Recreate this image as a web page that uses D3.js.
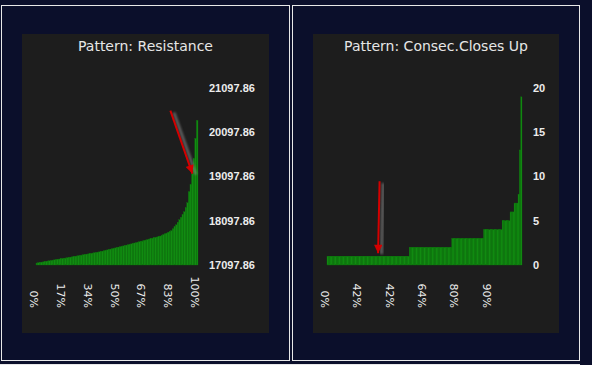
<!DOCTYPE html>
<html>
<head>
<meta charset="utf-8">
<script src="https://cdn.jsdelivr.net/npm/d3@7"></script>
<style>
  html, body { margin: 0; padding: 0; background: #0b0f2b; }
  svg { display: block; }
</style>
</head>
<body>
<svg id="chart"></svg>
<script>
// sorted resistance levels (left panel)
const resistanceValues = [
  17143, 17150, 17157, 17162, 17168, 17175, 17182, 17189, 17193, 17200,
  17207, 17214, 17221, 17225, 17232, 17239, 17246, 17252, 17257, 17261,
  17268, 17275, 17282, 17289, 17296, 17302, 17309, 17316, 17323, 17330,
  17336, 17343, 17348, 17355, 17361, 17368, 17375, 17382, 17389, 17395,
  17402, 17411, 17420, 17429, 17439, 17448, 17457, 17466, 17475, 17484,
  17493, 17502, 17511, 17520, 17529, 17538, 17547, 17557, 17566, 17575,
  17584, 17595, 17604, 17613, 17625, 17634, 17643, 17654, 17663, 17672,
  17684, 17693, 17702, 17713, 17722, 17731, 17743, 17752, 17768, 17786,
  17802, 17820, 17838, 17856, 17874, 17915, 17961, 18006, 18063, 18120,
  18176, 18233, 18301, 18392, 18505, 18755, 18914, 19164, 19504, 19958,
  20367
];
const resistanceXLabels = ["0%", "17%", "34%", "50%", "67%", "83%", "100%"];
const resistanceYTicks = [17097.86, 18097.86, 19097.86, 20097.86, 21097.86];
const resistanceCurrent = 97;

// sorted count of consecutive closes up (right panel)
const closesUpValues = [
  1, 1, 1, 1, 1, 1, 1, 1, 1, 1, 1, 1, 1, 1, 1, 1, 1, 1, 1, 1,
  1, 1, 1, 1, 1, 1, 1, 1, 1, 1, 1, 1, 1, 1, 1, 1, 1, 1, 1, 1,
  1, 1, 1, 1, 1, 1, 1, 1, 1, 1, 1, 1, 1, 1, 1, 1, 1, 1, 1, 1,
  1, 1,
  2, 2, 2, 2, 2, 2, 2, 2, 2, 2, 2, 2, 2, 2, 2, 2, 2, 2, 2, 2,
  2, 2, 2, 2, 2, 2, 2, 2, 2, 2, 2, 2,
  3, 3, 3, 3, 3, 3, 3, 3, 3, 3, 3, 3, 3, 3, 3, 3, 3, 3, 3, 3,
  3, 3, 3, 3,
  4, 4, 4, 4, 4, 4, 4, 4, 4, 4, 4, 4, 4, 4,
  5, 5, 5, 5, 5, 5,
  6, 6, 6,
  7, 7, 7,
  8, 13, 19
];
const closesUpXLabels = ["0%", "42%", "42%", "64%", "80%", "90%", ""];
const closesUpYTicks = [0, 5, 10, 15, 20];
const closesUpCurrent = 38;

const width = 592, height = 365;

const svg = d3.select("#chart")
  .attr("width", width)
  .attr("height", height);

svg.append("rect").attr("width", width).attr("height", height).attr("fill", "#0b0f2b");

const defs = svg.append("defs");
defs.append("filter").attr("id", "blur")
  .attr("x", "-50%").attr("y", "-50%").attr("width", "200%").attr("height", "200%")
  .append("feGaussianBlur").attr("stdDeviation", 1.3);
defs.append("marker")
  .attr("id", "head")
  .attr("viewBox", "0 0 10 10")
  .attr("refX", 10).attr("refY", 5)
  .attr("markerWidth", 5.5).attr("markerHeight", 4.2)
  .attr("markerUnits", "strokeWidth")
  .attr("orient", "auto")
  .append("path").attr("d", "M0,0 L10,5 L0,10 Z").attr("fill", "#d40000");

// outer frames
svg.append("rect").attr("x", 1.5).attr("y", 5.5).attr("width", 288).attr("height", 355)
  .attr("fill", "none").attr("stroke", "#e8e8e8");
svg.append("rect").attr("x", 292.5).attr("y", 5.5).attr("width", 287).attr("height", 355)
  .attr("fill", "none").attr("stroke", "#e8e8e8");
svg.append("line").attr("x1", 0).attr("x2", 580).attr("y1", 364.5).attr("y2", 364.5)
  .attr("stroke", "#e8e8e8");

function drawPanel(opt) {
  const g = svg.append("g");

  g.append("rect")
    .attr("x", opt.box[0]).attr("y", 34)
    .attr("width", opt.box[1] - opt.box[0]).attr("height", 299)
    .attr("fill", "#1d1d1d");

  g.append("text")
    .attr("x", (opt.box[0] + opt.box[1]) / 2)
    .attr("y", 51)
    .attr("text-anchor", "middle")
    .attr("font-family", "'DejaVu Sans', sans-serif")
    .attr("font-size", "14px")
    .attr("fill", "#e6e6e6")
    .text(opt.title);

  const x = d3.scaleBand()
    .domain(d3.range(opt.values.length))
    .range(opt.plotX)
    .paddingInner(0);

  const y = d3.scaleLinear()
    .domain(opt.yDomain)
    .range([265, 88]);

  g.selectAll("rect.bar")
    .data(opt.values)
    .enter().append("rect")
    .attr("class", "bar")
    .attr("x", (d, i) => x(i))
    .attr("width", x.bandwidth())
    .attr("y", d => y(d))
    .attr("height", d => y(opt.yDomain[0]) - y(d))
    .attr("fill", "#128c12")
    .attr("stroke", "#0d780d")
    .attr("stroke-width", 0.3);

  // y labels on the right
  g.selectAll("text.ytick")
    .data(opt.yTicks)
    .enter().append("text")
    .attr("class", "ytick")
    .attr("x", opt.plotX[1] + 11)
    .attr("y", d => y(d))
    .attr("dy", "0.35em")
    .attr("font-family", "'Liberation Sans', Arial, sans-serif")
    .attr("font-weight", "bold")
    .attr("font-size", "11px")
    .attr("fill", "#ececec")
    .text(d => opt.yFormat(d));

  // x labels, rotated
  const xl = d3.scaleLinear()
    .domain([0, opt.xLabels.length - 1])
    .range([opt.plotX[0] - 2, opt.plotX[1] - 3]);

  g.selectAll("text.xtick")
    .data(opt.xLabels)
    .enter().append("text")
    .attr("class", "xtick")
    .attr("transform", (d, i) => `translate(${xl(i)},308) rotate(90)`)
    .attr("text-anchor", "end")
    .attr("dy", "0.35em")
    .attr("font-family", "'DejaVu Sans', sans-serif")
    .attr("font-size", "11px")
    .attr("fill", "#ececec")
    .text(d => d);

  // arrow at the current value
  const tipX = x(opt.current) + x.bandwidth() / 2;
  const tipY = y(opt.values[opt.current]) - opt.arrowGap;
  const tailX = tipX + opt.arrowDx, tailY = tipY + opt.arrowDy;

  g.append("line")
    .attr("x1", tailX + 3.5).attr("y1", tailY + 2)
    .attr("x2", tipX + 3.5).attr("y2", tipY + 1)
    .attr("stroke", "#8a8a8a")
    .attr("stroke-width", 3)
    .attr("opacity", 0.6)
    .attr("filter", "url(#blur)");

  g.append("line")
    .attr("x1", tailX).attr("y1", tailY)
    .attr("x2", tipX).attr("y2", tipY)
    .attr("stroke", "#d40000")
    .attr("stroke-width", 2)
    .attr("marker-end", "url(#head)");
}

drawPanel({
  box: [22, 269],
  title: "Pattern: Resistance",
  values: resistanceValues,
  plotX: [36, 198],
  yDomain: [17097.86, 21097.86],
  yTicks: resistanceYTicks,
  yFormat: d => d.toFixed(2),
  xLabels: resistanceXLabels,
  current: resistanceCurrent,
  arrowGap: 0,
  arrowDx: -22,
  arrowDy: -63
});

drawPanel({
  box: [313, 559],
  title: "Pattern: Consec.Closes Up",
  values: closesUpValues,
  plotX: [327, 522],
  yDomain: [0, 20],
  yTicks: closesUpYTicks,
  yFormat: d => d,
  xLabels: closesUpXLabels,
  current: closesUpCurrent,
  arrowGap: 3,
  arrowDx: 1.5,
  arrowDy: -72
});
</script>
</body>
</html>
